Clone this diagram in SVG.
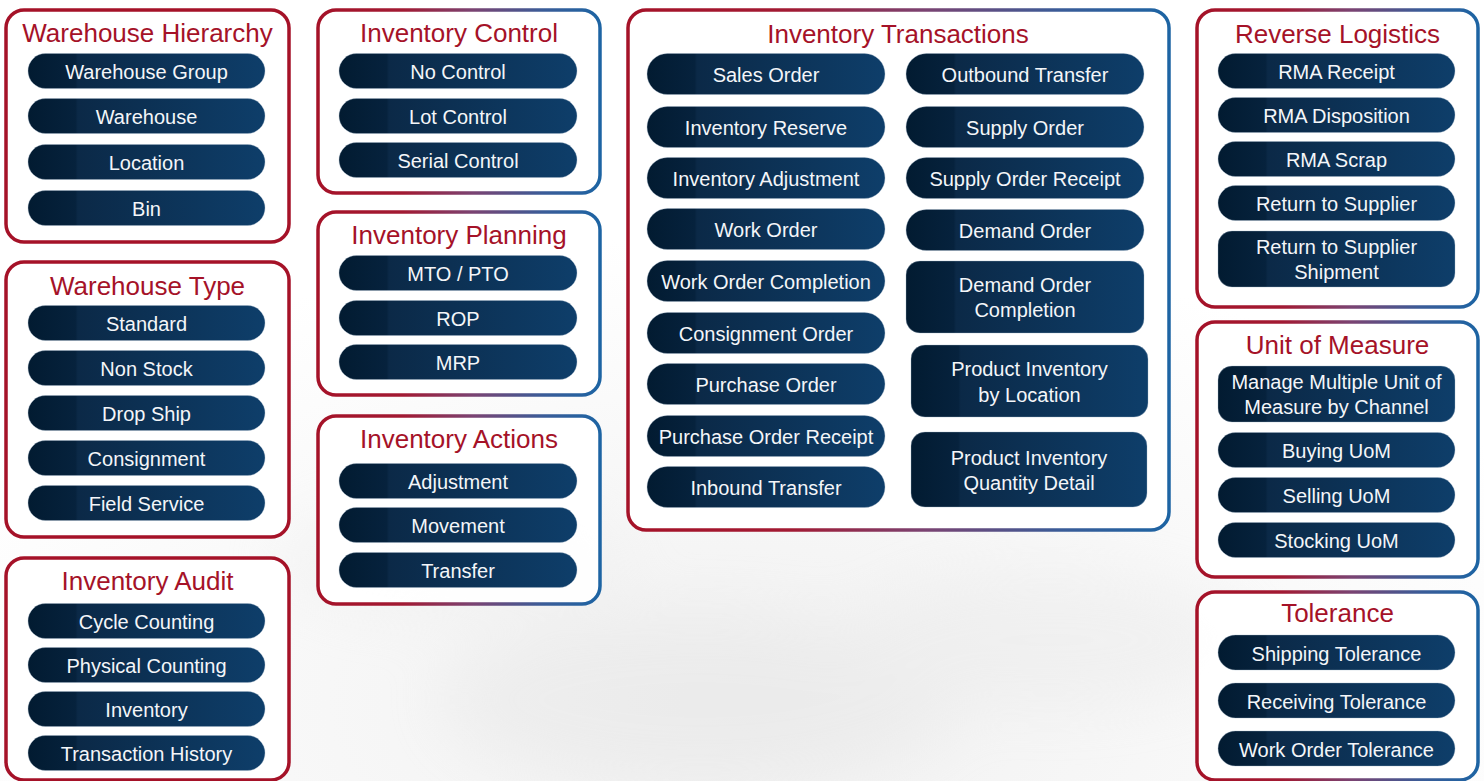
<svg xmlns="http://www.w3.org/2000/svg" width="1484" height="781" viewBox="0 0 1484 781">
<defs>
<linearGradient id="pillG" x1="0" y1="0" x2="1" y2="0">
<stop offset="0" stop-color="#021b31"/>
<stop offset="0.2" stop-color="#06223d"/>
<stop offset="0.21" stop-color="#0b2947"/>
<stop offset="1" stop-color="#0e3e6a"/>
</linearGradient>
<linearGradient id="borderG" x1="0" y1="0" x2="1" y2="0">
<stop offset="0" stop-color="#a51228"/>
<stop offset="0.3" stop-color="#a21a33"/>
<stop offset="0.55" stop-color="#7a4372"/>
<stop offset="0.8" stop-color="#3a5c98"/>
<stop offset="1" stop-color="#1d64a3"/>
</linearGradient>
<radialGradient id="bgG" cx="0.5" cy="0.9" r="0.6">
<stop offset="0" stop-color="#f0f0f0"/>
<stop offset="1" stop-color="#ffffff"/>
</radialGradient>
<filter id="blur" x="-50%" y="-50%" width="200%" height="200%"><feGaussianBlur stdDeviation="30"/></filter>
</defs>
<style>
.box{fill:#ffffff;fill-opacity:0.92;stroke-width:3.5}
.red{stroke:#a51228}
.grad{stroke:url(#borderG)}
.title{font-family:"Liberation Sans",Arial,sans-serif;font-size:26px;fill:#a51228;text-anchor:middle}
.pill{fill:url(#pillG);stroke:#9fb2c6;stroke-opacity:0.35;stroke-width:1}
.lbl{font-family:"Liberation Sans",Arial,sans-serif;font-size:20px;fill:#f4f6f9;text-anchor:middle}
</style>
<rect x="0" y="0" width="1484" height="781" fill="#ffffff"/>
<rect x="0" y="0" width="1484" height="781" fill="url(#bgG)"/>
<g filter="url(#blur)" opacity="0.35">
<ellipse cx="700" cy="700" rx="260" ry="90" fill="#e2e2e2"/>
<ellipse cx="1050" cy="640" rx="200" ry="70" fill="#e6e6e6"/>
<ellipse cx="450" cy="560" rx="180" ry="60" fill="#ebebeb"/>
</g>

<g id="warehouse-hierarchy">
<rect class="box red" x="6" y="10" width="283" height="232" rx="18"/>
<text class="title" x="147.5" y="42">Warehouse Hierarchy</text>
<rect class="pill" x="28" y="53.5" width="237" height="35" rx="17.5"/><text class="lbl" x="146.5" y="78.5">Warehouse Group</text>
<rect class="pill" x="28" y="98.5" width="237" height="35" rx="17.5"/><text class="lbl" x="146.5" y="123.5">Warehouse</text>
<rect class="pill" x="28" y="144.5" width="237" height="35" rx="17.5"/><text class="lbl" x="146.5" y="169.5">Location</text>
<rect class="pill" x="28" y="190.5" width="237" height="35" rx="17.5"/><text class="lbl" x="146.5" y="215.5">Bin</text>
</g>

<g id="warehouse-type">
<rect class="box red" x="6" y="262" width="283" height="275" rx="18"/>
<text class="title" x="147.5" y="295">Warehouse Type</text>
<rect class="pill" x="28" y="305.5" width="237" height="35" rx="17.5"/><text class="lbl" x="146.5" y="330.5">Standard</text>
<rect class="pill" x="28" y="350.5" width="237" height="35" rx="17.5"/><text class="lbl" x="146.5" y="375.5">Non Stock</text>
<rect class="pill" x="28" y="395.5" width="237" height="35" rx="17.5"/><text class="lbl" x="146.5" y="420.5">Drop Ship</text>
<rect class="pill" x="28" y="440.5" width="237" height="35" rx="17.5"/><text class="lbl" x="146.5" y="465.5">Consignment</text>
<rect class="pill" x="28" y="485.5" width="237" height="35" rx="17.5"/><text class="lbl" x="146.5" y="510.5">Field Service</text>
</g>

<g id="inventory-audit">
<rect class="box red" x="6" y="558" width="283" height="222" rx="18"/>
<text class="title" x="147.5" y="590">Inventory Audit</text>
<rect class="pill" x="28" y="603.5" width="237" height="35" rx="17.5"/><text class="lbl" x="146.5" y="628.5">Cycle Counting</text>
<rect class="pill" x="28" y="647.5" width="237" height="35" rx="17.5"/><text class="lbl" x="146.5" y="672.5">Physical Counting</text>
<rect class="pill" x="28" y="691.5" width="237" height="35" rx="17.5"/><text class="lbl" x="146.5" y="716.5">Inventory</text>
<rect class="pill" x="28" y="735.5" width="237" height="35" rx="17.5"/><text class="lbl" x="146.5" y="760.5">Transaction History</text>
</g>

<g id="inventory-control">
<rect class="box grad" x="318" y="10" width="282" height="183" rx="18"/>
<text class="title" x="459" y="42">Inventory Control</text>
<rect class="pill" x="339" y="53.5" width="238" height="35" rx="17.5"/><text class="lbl" x="458" y="78.5">No Control</text>
<rect class="pill" x="339" y="98.5" width="238" height="35" rx="17.5"/><text class="lbl" x="458" y="123.5">Lot Control</text>
<rect class="pill" x="339" y="142.5" width="238" height="35" rx="17.5"/><text class="lbl" x="458" y="167.5">Serial Control</text>
</g>

<g id="inventory-planning">
<rect class="box grad" x="318" y="212" width="282" height="183" rx="18"/>
<text class="title" x="459" y="244">Inventory Planning</text>
<rect class="pill" x="339" y="255.5" width="238" height="35" rx="17.5"/><text class="lbl" x="458" y="280.5">MTO / PTO</text>
<rect class="pill" x="339" y="300.5" width="238" height="35" rx="17.5"/><text class="lbl" x="458" y="325.5">ROP</text>
<rect class="pill" x="339" y="344.5" width="238" height="35" rx="17.5"/><text class="lbl" x="458" y="369.5">MRP</text>
</g>

<g id="inventory-actions">
<rect class="box grad" x="318" y="416" width="282" height="188" rx="18"/>
<text class="title" x="459" y="448">Inventory Actions</text>
<rect class="pill" x="339" y="463.5" width="238" height="35" rx="17.5"/><text class="lbl" x="458" y="488.5">Adjustment</text>
<rect class="pill" x="339" y="507.5" width="238" height="35" rx="17.5"/><text class="lbl" x="458" y="532.5">Movement</text>
<rect class="pill" x="339" y="552.5" width="238" height="35" rx="17.5"/><text class="lbl" x="458" y="577.5">Transfer</text>
</g>

<g id="inventory-transactions">
<rect class="box grad" x="628" y="10" width="541" height="520" rx="18"/>
<text class="title" x="898" y="43">Inventory Transactions</text>
<rect class="pill" x="647" y="53.5" width="238" height="41" rx="20.5"/><text class="lbl" x="766" y="81.5">Sales Order</text>
<rect class="pill" x="647" y="106.5" width="238" height="41" rx="20.5"/><text class="lbl" x="766" y="134.5">Inventory Reserve</text>
<rect class="pill" x="647" y="157.5" width="238" height="41" rx="20.5"/><text class="lbl" x="766" y="185.5">Inventory Adjustment</text>
<rect class="pill" x="647" y="208.5" width="238" height="41" rx="20.5"/><text class="lbl" x="766" y="236.5">Work Order</text>
<rect class="pill" x="647" y="260.5" width="238" height="41" rx="20.5"/><text class="lbl" x="766" y="288.5">Work Order Completion</text>
<rect class="pill" x="647" y="312.5" width="238" height="41" rx="20.5"/><text class="lbl" x="766" y="340.5">Consignment Order</text>
<rect class="pill" x="647" y="363.5" width="238" height="41" rx="20.5"/><text class="lbl" x="766" y="391.5">Purchase Order</text>
<rect class="pill" x="647" y="415.5" width="238" height="41" rx="20.5"/><text class="lbl" x="766" y="443.5">Purchase Order Receipt</text>
<rect class="pill" x="647" y="466.5" width="238" height="41" rx="20.5"/><text class="lbl" x="766" y="494.5">Inbound Transfer</text>
<rect class="pill" x="906" y="53.5" width="238" height="41" rx="20.5"/><text class="lbl" x="1025" y="81.5">Outbound Transfer</text>
<rect class="pill" x="906" y="106.5" width="238" height="41" rx="20.5"/><text class="lbl" x="1025" y="134.5">Supply Order</text>
<rect class="pill" x="906" y="157.5" width="238" height="41" rx="20.5"/><text class="lbl" x="1025" y="185.5">Supply Order Receipt</text>
<rect class="pill" x="906" y="209.5" width="238" height="41" rx="20.5"/><text class="lbl" x="1025" y="237.5">Demand Order</text>
<rect class="pill" x="906" y="261" width="238" height="72" rx="14"/><text class="lbl" x="1025" y="291.5">Demand Order</text><text class="lbl" x="1025" y="316.5">Completion</text>
<rect class="pill" x="911" y="345" width="237" height="72" rx="14"/><text class="lbl" x="1029.5" y="375.5">Product Inventory</text><text class="lbl" x="1029.5" y="401.5">by Location</text>
<rect class="pill" x="911" y="432" width="236" height="75" rx="14"/><text class="lbl" x="1029" y="464.5">Product Inventory</text><text class="lbl" x="1029" y="489.5">Quantity Detail</text>
</g>

<g id="reverse-logistics">
<rect class="box grad" x="1197" y="10" width="281" height="297" rx="18"/>
<text class="title" x="1337.5" y="43">Reverse Logistics</text>
<rect class="pill" x="1218" y="53.5" width="237" height="35" rx="17.5"/><text class="lbl" x="1336.5" y="78.5">RMA Receipt</text>
<rect class="pill" x="1218" y="97.5" width="237" height="35" rx="17.5"/><text class="lbl" x="1336.5" y="122.5">RMA Disposition</text>
<rect class="pill" x="1218" y="141.5" width="237" height="35" rx="17.5"/><text class="lbl" x="1336.5" y="166.5">RMA Scrap</text>
<rect class="pill" x="1218" y="185.5" width="237" height="35" rx="17.5"/><text class="lbl" x="1336.5" y="210.5">Return to Supplier</text>
<rect class="pill" x="1218" y="231" width="237" height="56" rx="14"/><text class="lbl" x="1336.5" y="253.5">Return to Supplier</text><text class="lbl" x="1336.5" y="278.5">Shipment</text>
</g>

<g id="unit-of-measure">
<rect class="box grad" x="1197" y="322" width="281" height="255" rx="18"/>
<text class="title" x="1337.5" y="354">Unit of Measure</text>
<rect class="pill" x="1218" y="366" width="237" height="56" rx="14"/><text class="lbl" x="1336.5" y="388.5">Manage Multiple Unit of</text><text class="lbl" x="1336.5" y="413.5">Measure by Channel</text>
<rect class="pill" x="1218" y="432.5" width="237" height="35" rx="17.5"/><text class="lbl" x="1336.5" y="457.5">Buying UoM</text>
<rect class="pill" x="1218" y="477.5" width="237" height="35" rx="17.5"/><text class="lbl" x="1336.5" y="502.5">Selling UoM</text>
<rect class="pill" x="1218" y="522.5" width="237" height="35" rx="17.5"/><text class="lbl" x="1336.5" y="547.5">Stocking UoM</text>
</g>

<g id="tolerance">
<rect class="box grad" x="1197" y="592" width="281" height="188" rx="18"/>
<text class="title" x="1337.5" y="622">Tolerance</text>
<rect class="pill" x="1218" y="635" width="237" height="35" rx="17.5"/><text class="lbl" x="1336.5" y="660.5">Shipping Tolerance</text>
<rect class="pill" x="1218" y="683" width="237" height="35" rx="17.5"/><text class="lbl" x="1336.5" y="708.5">Receiving Tolerance</text>
<rect class="pill" x="1218" y="731" width="237" height="35" rx="17.5"/><text class="lbl" x="1336.5" y="756.5">Work Order Tolerance</text>
</g>

<g id="connectors"></g>
</svg>
